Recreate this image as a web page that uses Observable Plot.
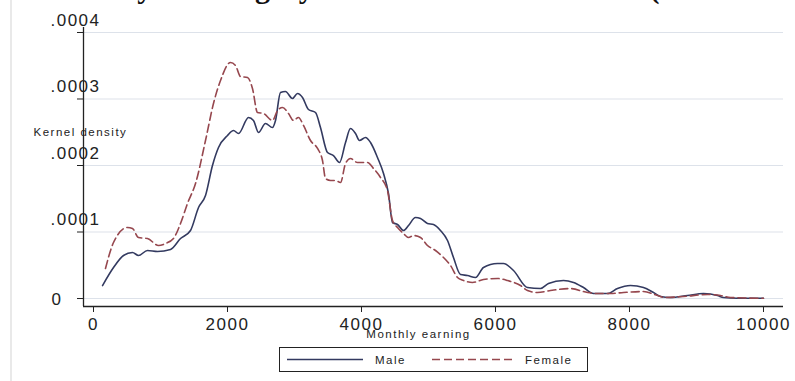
<!DOCTYPE html>
<html>
<head>
<meta charset="utf-8">
<script src="https://cdn.jsdelivr.net/npm/d3@7"></script>
<script src="https://cdn.jsdelivr.net/npm/@observablehq/plot@0.6"></script>
<style>
  body { margin: 0; background: #fff; }
  #wrap { position: relative; width: 795px; height: 381px; overflow: hidden; background: #fff;
          font-family: "Liberation Sans", Arial, sans-serif; color: #222; }
  #wrap svg text { letter-spacing: 1.5px; }
  #edge { position: absolute; left: 10px; top: 0; width: 2px; height: 381px; background: #e9e9e9; }
  #title { position: absolute; left: 0; top: 0; display: block; }
  #title text { letter-spacing: 0; }
  #chart { position: absolute; left: 0; top: 0; }
  #legend { position: absolute; left: 279px; top: 347px; width: 309px; height: 25px;
            box-sizing: border-box; border: 1px solid #222; background: #fff; }
</style>
</head>
<body>
<div id="wrap">
  <div id="edge"></div>
  <div id="chart"></div>
  <div id="legend"></div>
</div>
<script>
// Kernel density estimates of monthly earning, by sex
const maleEarning = [60, 224, 373, 507, 597, 731, 881, 1075, 1224, 1373, 1493, 1597, 1701, 1791, 1925, 2015, 2090, 2239, 2313, 2388, 2492, 2597, 2642, 2716, 2791, 2895, 2970, 3045, 3134, 3239, 3313, 3418, 3507, 3597, 3687, 3761, 3836, 3895, 3985, 4060, 4164, 4254, 4328, 4388, 4463, 4552, 4627, 4731, 4806, 4910, 5000, 5104, 5209, 5298, 5403, 5507, 5627, 5746, 5955, 6045, 6194, 6403, 6597, 6716, 6940, 7090, 7239, 7388, 7597, 7746, 7940, 8134, 8284, 8388, 8537, 8791, 9030, 9239, 9328, 9537, 9925];
const maleDensity = [0.0000195, 0.0000466, 0.0000647, 0.0000692, 0.0000647, 0.0000722, 0.0000707, 0.0000737, 0.0000902, 0.0001023, 0.0001368, 0.0001549, 0.0002000, 0.0002271, 0.0002451, 0.0002526, 0.0002481, 0.0002722, 0.0002677, 0.0002496, 0.0002632, 0.0002571, 0.0002677, 0.0003098, 0.0003113, 0.0003008, 0.0003083, 0.0003023, 0.0002842, 0.0002797, 0.0002571, 0.0002195, 0.0002150, 0.0002045, 0.0002346, 0.0002556, 0.0002481, 0.0002376, 0.0002421, 0.0002346, 0.0002120, 0.0001880, 0.0001579, 0.0001143, 0.0001113, 0.0001023, 0.0001098, 0.0001218, 0.0001203, 0.0001128, 0.0001113, 0.0001023, 0.0000872, 0.0000617, 0.0000361, 0.0000346, 0.0000316, 0.0000466, 0.0000526, 0.0000526, 0.0000421, 0.0000165, 0.0000150, 0.0000226, 0.0000271, 0.0000241, 0.0000165, 0.0000075, 0.0000075, 0.0000150, 0.0000195, 0.0000165, 0.0000090, 0.0000030, 0.0000015, 0.0000045, 0.0000075, 0.0000045, 0.0000015, 0.0000005, 0.0000003];

const femaleEarning = [104, 224, 433, 507, 597, 731, 896, 1000, 1119, 1224, 1328, 1448, 1597, 1716, 1821, 1970, 2045, 2119, 2224, 2298, 2373, 2463, 2597, 2672, 2746, 2836, 2910, 2985, 3060, 3164, 3269, 3343, 3388, 3463, 3537, 3612, 3687, 3761, 3866, 4015, 4104, 4209, 4313, 4388, 4463, 4552, 4627, 4701, 4806, 4910, 5030, 5149, 5254, 5358, 5448, 5582, 5746, 5955, 6104, 6299, 6403, 6552, 6746, 7045, 7299, 7448, 7642, 7836, 8134, 8343, 8448, 8731, 9090, 9284, 9433, 9925];
const femaleDensity = [0.0000451, 0.0000842, 0.0001068, 0.0001053, 0.0000917, 0.0000902, 0.0000797, 0.0000827, 0.0000902, 0.0001128, 0.0001429, 0.0001729, 0.0002376, 0.0002932, 0.0003278, 0.0003549, 0.0003504, 0.0003338, 0.0003323, 0.0003158, 0.0002797, 0.0002782, 0.0002677, 0.0002827, 0.0002872, 0.0002782, 0.0002677, 0.0002722, 0.0002602, 0.0002376, 0.0002256, 0.0002075, 0.0001805, 0.0001774, 0.0001774, 0.0001744, 0.0002030, 0.0002105, 0.0002045, 0.0002045, 0.0001955, 0.0001820, 0.0001624, 0.0001173, 0.0001068, 0.0000977, 0.0000917, 0.0000947, 0.0000917, 0.0000797, 0.0000722, 0.0000617, 0.0000496, 0.0000316, 0.0000271, 0.0000241, 0.0000286, 0.0000301, 0.0000271, 0.0000195, 0.0000120, 0.0000090, 0.0000120, 0.0000150, 0.0000090, 0.0000075, 0.0000075, 0.0000090, 0.0000105, 0.0000045, 0.0000015, 0.0000030, 0.0000060, 0.0000045, 0.0000015, 0.0000003];

const seriesNames = ["Male", "Female"];
const seriesColors = ["#333a60", "#96474e"];
const seriesDash = [null, "8,4"];

const xTicks = [0, 2000, 4000, 6000, 8000, 10000];
const xTickLabels = ["0", "2000", "4000", "6000", "8000", "10000"];
const yTicks = [0, 0.0001, 0.0002, 0.0003, 0.0004];
const yTickLabels = ["0", ".0001", ".0002", ".0003", ".0004"];

const titleText = "Distribution of monthly earning by sex of workers in 2011 (urban areas)";
const xTitle = "Monthly earning";
const yTitle = "Kernel density";

const male = maleEarning.map((e, i) => ({earning: e, density: maleDensity[i]}));
const female = femaleEarning.map((e, i) => ({earning: e, density: femaleDensity[i]}));

const xDomain = [-224, 10224];
const yDomain = [-0.000012, 0.0004075];
const labelOf = (ticks, labels) => d => labels[ticks.indexOf(d)];

const plot = Plot.plot({
  width: 795,
  height: 340,
  marginLeft: 83,
  marginRight: 12,
  marginTop: 27,
  marginBottom: 34,
  x: {domain: xDomain},
  y: {domain: yDomain},
  style: {fontFamily: "Liberation Sans, Arial, sans-serif", color: "#222", background: "transparent", overflow: "visible"},
  marks: [
    Plot.gridY(yTicks, {stroke: "#dde2ea", strokeOpacity: 1, strokeWidth: 1.2}),
    Plot.line(male, {x: "earning", y: "density", stroke: seriesColors[0], strokeWidth: 1.6, curve: "monotone-x"}),
    Plot.line(female, {x: "earning", y: "density", stroke: seriesColors[1], strokeWidth: 1.6, strokeDasharray: seriesDash[1], curve: "monotone-x"}),
    Plot.ruleX([xDomain[0]], {stroke: "#222", strokeWidth: 1.3}),
    Plot.ruleY([yDomain[0]], {stroke: "#222", strokeWidth: 1.3}),
    Plot.axisY(yTicks, {tickSize: 6, tickFormat: () => "", label: null, stroke: "#222"}),
    Plot.text(yTicks.filter(d => d !== 0), {y: d => d, text: labelOf(yTicks, yTickLabels), frameAnchor: "left", textAnchor: "end", dx: 17, dy: -12, fontSize: 17, fill: "#222"}),
    Plot.text([0], {y: d => d, text: labelOf(yTicks, yTickLabels), frameAnchor: "left", textAnchor: "end", dx: -21, dy: 1, fontSize: 17, fill: "#222"}),
    Plot.axisX(xTicks, {tickSize: 6, tickPadding: 5, tickFormat: labelOf(xTicks, xTickLabels), label: null, fontSize: 17, dx: -5, stroke: "#222"}),
    Plot.text([yTitle], {text: d => d, frameAnchor: "left", textAnchor: "start", dx: -50, dy: -34.5, fontSize: 11.5, fill: "#222"}),
    Plot.text([xTitle], {text: d => d, frameAnchor: "bottom", dx: -15, dy: 31, fontSize: 11.5, fill: "#222"})
  ]
});
document.getElementById("chart").appendChild(plot);

// Title strip along the top edge; only its lower part falls inside the page
const title = d3.select("#wrap").append("svg").attr("id", "title")
  .attr("width", 795).attr("height", 20);
const titleNode = title.append("text")
  .attr("x", 0).attr("y", -2.5)
  .attr("font-family", "Liberation Serif, Times New Roman, serif")
  .attr("font-weight", "bold").attr("font-size", 30).attr("fill", "#111")
  .text(titleText).node();
// place the "g by" of "earning by" near x = 255
const gIndex = titleText.indexOf("g by");
const prefix = titleNode.getSubStringLength(0, gIndex);
titleNode.setAttribute("x", 255 - prefix);

// Legend
const legend = d3.select("#legend").append("svg").attr("width", 307).attr("height", 23)
  .style("display", "block");
const legendItems = [
  {x0: 7, x1: 83, tx: 95},
  {x0: 152, x1: 233, tx: 245}
];
seriesNames.forEach((name, i) => {
  const it = legendItems[i];
  legend.append("line").attr("x1", it.x0).attr("x2", it.x1).attr("y1", 11.5).attr("y2", 11.5)
    .attr("stroke", seriesColors[i]).attr("stroke-width", 1.6)
    .attr("stroke-dasharray", seriesDash[i]);
  legend.append("text").attr("x", it.tx).attr("y", 11.5).attr("dy", "0.35em")
    .attr("font-size", 11.5).attr("fill", "#222")
    .style("font-family", "Liberation Sans, Arial, sans-serif")
    .text(name);
});
</script>
</body>
</html>
